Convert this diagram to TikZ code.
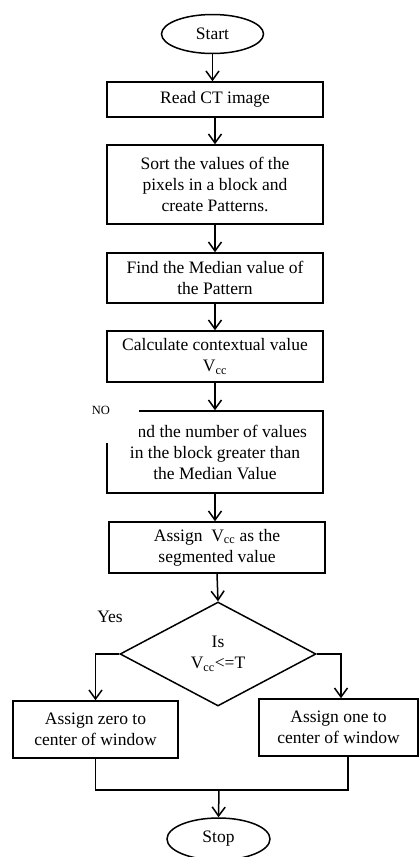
\documentclass[tikz,border=0pt]{standalone}
\usepackage{fontspec}
\setmainfont{Liberation Serif}
\usetikzlibrary{shapes.geometric, arrows.meta}

\tikzstyle{block}=[draw, rectangle, align=center, inner sep=0pt, minimum width=216pt]
\tikzstyle{terminal}=[draw, ellipse, inner sep=0pt, minimum width=102pt, minimum height=39pt]
\tikzstyle{decision}=[draw, diamond, align=center, inner sep=0pt, minimum width=196pt, minimum height=104pt]
\tikzstyle{flow}=[draw, -{Straight Barb[length=9pt, width=13pt]}]

\begin{document}
\begin{tikzpicture}[x=1pt, y=-1pt, line width=1.5pt, font=\fontsize{17.5pt}{21pt}\selectfont]
\useasboundingbox (0,0) rectangle (419,857);

\node[terminal] (start) at (212.5,34) {Start};
\node[block, minimum height=35pt] (read) at (215,99.5) {Read CT image};
\node[block, minimum height=79pt] (sort) at (215,184.5) {Sort the values of the\\pixels in a block and\\create Patterns.};
\node[block, minimum height=50pt] (median) at (215,278) {Find the Median value of\\the Pattern};
\node[block, minimum height=51pt] (calc) at (215,356.5) {Calculate contextual value\\V\textsubscript{cc}};
\node[block, minimum height=82pt] (count) at (215,452) {\phantom{Fi}nd the number of values\\in the block greater than\\the Median Value};
\node[block, minimum height=51pt] (assign) at (217,547.5) {Assign~~V\textsubscript{cc} as the\\segmented value};
\node[decision] (decide) at (218,654) {Is\\V\textsubscript{cc}<=T};
\node[block, minimum width=165pt, minimum height=57pt] (zero) at (95.5,729.5) {Assign zero to\\center of window};
\node[block, minimum width=159pt, minimum height=57pt] (one) at (338.5,727.5) {Assign one to\\center of window};
\node[terminal, minimum width=103pt, minimum height=42pt] (stop) at (218.5,839) {Stop};
\coordinate (join) at (219,790);

\fill[white] (100,399) rectangle (139,443);
\node[font=\fontsize{12.5pt}{15pt}\selectfont] (no) at (101,410) {NO};
\node (yes) at (110,617) {Yes};

\path[flow] (start.south) -- (start.south |- read.north);
\path[flow] (read.south) -- (read.south |- sort.north);
\path[flow] (sort.south) -- (sort.south |- median.north);
\path[flow] (median.south) -- (median.south |- calc.north);
\path[flow] (calc.south) -- (calc.south |- count.north);
\path[flow] (count.south) -- (count.south |- assign.north);
\path[flow] (assign.south) -- (decide.north);
\path[flow] (decide.west) -| (zero.north);
\path[flow] (decide.east) -| ([xshift=2.5pt]one.north);
\draw (zero.south) |- (join) -| ([xshift=9.5pt]one.south);
\path[flow] (join) -- (stop.north);

\end{tikzpicture}
\end{document}
